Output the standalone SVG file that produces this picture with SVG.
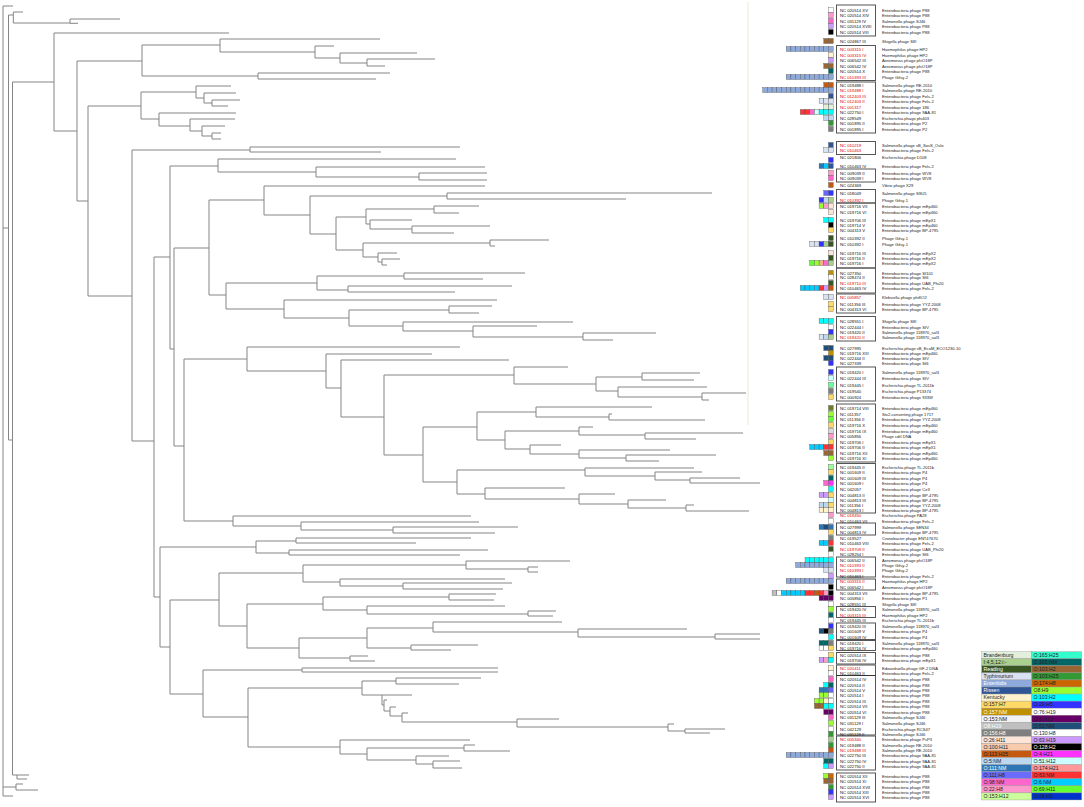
<svg xmlns="http://www.w3.org/2000/svg" width="1084" height="807" viewBox="0 0 1084 807">
<style>
.tree{fill:none;stroke:#858585;stroke-width:1}
.q rect{stroke:#4a4a4a;stroke-width:.35}
.n{font-family:"Liberation Sans",Arial,sans-serif;font-size:4.2px;fill:#111}
.r{font-family:"Liberation Sans",Arial,sans-serif;font-size:4.2px;fill:#e00000}
.d{font-family:"Liberation Sans",Arial,sans-serif;font-size:4.1px;fill:#222}
.box{fill:none;stroke:#555;stroke-width:1}
.lg rect{stroke:#9a9a9a;stroke-width:.4}
.lt{font-family:"Liberation Sans",Arial,sans-serif;font-size:5.2px;fill:#222}
.lw{font-family:"Liberation Sans",Arial,sans-serif;font-size:5.2px;fill:#fff}
</style>
<rect width="1084" height="807" fill="#fff"/>
<g id="connectors">
<line x1="748" y1="2" x2="748" y2="425" stroke="#e4eed4" stroke-width="1"/>
<path class="tree" d="M3,6V796M3,6H13M3,796H13M3,228H8.5M8.5,15V440M8.5,15H13.3M13.3,12V23M13.3,12H23M13.3,23H70M70,19V23.3M70,19H120M70,23.3H78M8.5,440H12.5M12.5,82V775M12.5,775H17M17,775V779M17,775H29M17,779H27M3,787H16M16,784V790M16,784H23M16,790H38
M12.5,82H54M54,33V131M54,33H229M54,131H77M77,61V201M77,61H142M142,45V76M142,45H220M220,39V52M220,39H380M220,52H315M315,46V58M315,46H334M315,58H340M340,53V63M340,53H417M340,63H367M367,59V66M367,59H435M367,66H385M142,76H258M258,73V79M258,73H390M258,79H376
M77,201H88M88,106V296M88,106H141M141,92V119M141,92H196M196,86V98M196,86H231M196,98H204M204,93V103M204,93H236M204,103H212M212,100V106M212,100H240M212,106H228M141,119H159M159,113V126M159,113H236M159,126H190M190,119V131M190,119H235M190,131H202M202,126V136M202,126H225M202,136H212M212,133V139M212,133H221M212,139H221
M88,296H132M132,150V441M132,150H250M250,147V152M250,147H460M250,152H381M132,441H154M154,257V597M154,257H170M170,166V349M170,166H218M218,159V172M218,159H456M218,172H316M316,167V177M316,167H485M316,177H419M419,173V180M419,173H487M419,180H487
M170,349H174M174,248V446M174,248H209M209,200V295M209,200H264M264,186V215M264,186H485M264,215H310M310,196V234M310,196H447M447,193V199M447,193H712M447,199H626M310,234H336M336,217V250M336,217H366M366,209V224M366,209H434M434,206V213M434,206H479M434,213H459M366,224H370M370,220V229M370,220H412M370,229H412M412,226V233M412,226H490M412,233H454M336,250H363M363,243V257M363,243H490M490,240V246M490,240H549M490,246H495M363,257H378M378,253V262M378,253H397M378,262H382M382,259V265M382,259H400M382,265H387
M209,295H226M226,283V309M226,283H317M317,276V290M317,276H404M404,273V279M404,273H525M404,279H483M317,290H348M348,286V292M348,286H512M348,292H455M226,309H284M284,300V318M284,300H497M284,318H349M349,310V326M349,310H449M449,306V313M449,306H492M449,313H479M349,326H403M403,322V331M403,322H573M403,331H473M473,326V337M473,326H537M473,337H583M583,333V340M583,333H656M583,340H613
M174,446H184M184,359V521M184,359H247M247,347V371M247,347H460M247,371H326M326,354V388M326,354H432M326,388H341M341,360V417M341,360H509M341,417H384M384,375V455M384,375H514M514,367V384M514,367H568M514,384H596M596,377V391M596,377H642M642,373V380M642,373H700M642,380H694M596,391H618M618,387V397M618,387H707M618,397H702M702,393V400M702,393H746M702,400H709
M384,455H423M423,427V482M423,427H477M477,412V440M477,412H536M536,407V417M536,407H652M536,417H609M609,414V420M609,414H612M609,420H705M477,440H505M505,431V449M505,431H579M579,427V435M579,427H593M579,435H645M645,433V439M645,433H743M645,439H696M505,449H530M530,445V454M530,445H561M530,454H579M579,450V458M579,450H670M579,458H626M626,455V461M626,455H716M626,461H659
M423,482H457M457,470V494M457,470H585M585,468V476M585,468H694M585,476H655M655,472V480M655,472H702M655,480H690M690,478V483M690,478H740M690,483H760M457,494H485M485,488V499M485,488H565M485,499H579M579,494V504M579,494H615M579,504H628M628,500V508M628,500H666M628,508H686M686,505V511M686,505H694M686,511H749
M184,521H233M233,516V526M233,516H471M233,526H301M301,522V530M301,522H479M301,530H393M393,527V533M393,527H518M393,533H495
M154,597H160M160,547V647M160,547H256M256,541V553M256,541H296M296,538V543M296,538H471M296,543H416M256,553H289M289,550V555M289,550H488M289,555H460
M160,647H170M170,600V694M170,600H219M219,573V626M219,573H303M303,565V582M303,565H466M466,561V569M466,561H570M466,569H528M528,567V572M528,567H538M528,572H538M303,582H340M340,579V586M340,579H505M340,586H403M403,583V589M403,583H512M403,589H503
M219,626H247M247,604V648M247,604H323M323,597V610M323,597H449M449,594V600M449,594H496M449,600H494M323,610H367M367,606V614M367,606H505M367,614H528M528,611V616M528,611H556M528,616H553M247,648H299M299,638V658M299,638H367M367,628V648M367,628H433M433,622V632M433,622H562M433,632H578M578,629V637M578,629H687M578,637H715M715,634V639M715,634H760M715,639H760M367,648H411M411,645V650M411,645H478M411,650H451M299,658H350M350,656V661M350,656H368M350,661H375
M170,694H203M203,670V717M203,670H302M302,668V672M302,668H498M302,672H498M203,717H248M248,688V747M248,688H362M362,681V695M362,681H396M396,678V684M396,678H481M396,684H459M362,695H382M382,695V705M382,695H412M382,705H384M384,700V711M384,700H387M384,711H390M390,707V716M390,707H396M390,716H402M402,713V722M402,713H408M402,722H517M517,719V727M517,719H559M517,727H668M668,724V731M668,724H674M668,731H685M685,729V733M685,729H725M685,733H710
M248,747H340M340,740V754M340,740H470M340,754H367M367,748V760M367,748H464M464,745V751M464,745H475M464,751H510M367,760H416M416,756V764M416,756H449M416,764H433M433,761V768M433,761H460M433,768H462"/>
</g>
<g id="clusters">
<rect class="box" x="836.5" y="5" width="39" height="31"/>
<rect class="box" x="836.5" y="45.5" width="39" height="35"/>
<rect class="box" x="836.5" y="82" width="39" height="51"/>
<rect class="box" x="836.5" y="141.5" width="39" height="13"/>
<rect class="box" x="836.5" y="169" width="39" height="13"/>
<rect class="box" x="836.5" y="189.5" width="39" height="13.5"/>
<rect class="box" x="836.5" y="203" width="39" height="65"/>
<rect class="box" x="836.5" y="268" width="39" height="25"/>
<rect class="box" x="836.5" y="294" width="39" height="19"/>
<rect class="box" x="836.5" y="316.5" width="39" height="24.5"/>
<rect class="box" x="836.5" y="367" width="39" height="34"/>
<rect class="box" x="836.5" y="404" width="39" height="58"/>
<rect class="box" x="836.5" y="463.5" width="39" height="49.5"/>
<rect class="box" x="836.5" y="523" width="39" height="12"/>
<rect class="box" x="836.5" y="557" width="39" height="20"/>
<rect class="box" x="836.5" y="579" width="39" height="11"/>
<rect class="box" x="836.5" y="606.5" width="39" height="11"/>
<rect class="box" x="836.5" y="623" width="39" height="16.5"/>
<rect class="box" x="836.5" y="640.5" width="39" height="10"/>
<rect class="box" x="836.5" y="652.5" width="39" height="11.5"/>
<rect class="box" x="836.5" y="665" width="39" height="70"/>
<line x1="836.5" y1="675.5" x2="875.5" y2="675.5" stroke="#333" stroke-width="1"/>
<rect class="box" x="836.5" y="736" width="39" height="34"/>
<rect class="box" x="836.5" y="773" width="39" height="29"/>
</g>
<g id="leaves">
<g id="r1" class="q"><rect x="828.5" y="7.5" width="4.7" height="5" fill="#ffffff"/><text class="n" x="840" y="11.5">NC 020514 XV</text><text class="d" x="882" y="11.5">Enterobacteria phage P88</text></g>
<g id="r2" class="q"><rect x="828.5" y="12.5" width="4.7" height="5" fill="#ff99cc"/><text class="n" x="840" y="16.5">NC 020514 XIV</text><text class="d" x="882" y="16.5">Enterobacteria phage P88</text></g>
<g id="r3" class="q"><rect x="828.5" y="18.5" width="4.7" height="5" fill="#ff66cc"/><text class="n" x="840" y="22.5">NC 031129 IV</text><text class="d" x="882" y="22.5">Salmonella phage SJ46</text></g>
<g id="r4" class="q"><rect x="828.5" y="23.5" width="4.7" height="5" fill="#cc99ff"/><text class="n" x="840" y="27.5">NC 020514 XVIII</text><text class="d" x="882" y="27.5">Enterobacteria phage P88</text></g>
<g id="r5" class="q"><rect x="828.5" y="29.5" width="4.7" height="5" fill="#000000"/><text class="n" x="840" y="33.5">NC 020514 VIII</text><text class="d" x="882" y="33.5">Enterobacteria phage P88</text></g>
<g id="r6" class="q"><rect x="823.8" y="38.5" width="4.7" height="5" fill="#996633"/><rect x="828.5" y="38.5" width="4.7" height="5" fill="#996633"/><text class="n" x="840" y="42.5">NC 024867 III</text><text class="d" x="882" y="42.5">Shigella phage SfII</text></g>
<g id="r7" class="q"><rect x="786.2" y="46.5" width="4.7" height="5" fill="#8ea9db"/><rect x="790.9" y="46.5" width="4.7" height="5" fill="#8ea9db"/><rect x="795.6" y="46.5" width="4.7" height="5" fill="#8ea9db"/><rect x="800.3" y="46.5" width="4.7" height="5" fill="#8ea9db"/><rect x="805" y="46.5" width="4.7" height="5" fill="#8ea9db"/><rect x="809.7" y="46.5" width="4.7" height="5" fill="#8ea9db"/><rect x="814.4" y="46.5" width="4.7" height="5" fill="#8ea9db"/><rect x="819.1" y="46.5" width="4.7" height="5" fill="#8ea9db"/><rect x="823.8" y="46.5" width="4.7" height="5" fill="#8ea9db"/><rect x="828.5" y="46.5" width="4.7" height="5" fill="#8ea9db"/><text class="r" x="840" y="50.5">NC 003315 I</text><text class="d" x="882" y="50.5">Haemophilus phage HP2</text></g>
<g id="r8" class="q"><rect x="828.5" y="52.5" width="4.7" height="5" fill="#fff2cc"/><text class="r" x="840" y="56.5">NC 003315 IV</text><text class="d" x="882" y="56.5">Haemophilus phage HP2</text></g>
<g id="r9" class="q"><rect x="828.5" y="57.5" width="4.7" height="5" fill="#cc99ff"/><text class="n" x="840" y="61.5">NC 006542 III</text><text class="d" x="882" y="61.5">Aeromonas phage phiO18P</text></g>
<g id="r10" class="q"><rect x="823.8" y="63.5" width="4.7" height="5" fill="#996633"/><rect x="828.5" y="63.5" width="4.7" height="5" fill="#996633"/><text class="n" x="840" y="67.5">NC 006542 IV</text><text class="d" x="882" y="67.5">Aeromonas phage phiO18P</text></g>
<g id="r11" class="q"><rect x="828.5" y="68.5" width="4.7" height="5" fill="#006666"/><text class="n" x="840" y="72.5">NC 020514 X</text><text class="d" x="882" y="72.5">Enterobacteria phage P88</text></g>
<g id="r12" class="q"><rect x="786.2" y="74.5" width="4.7" height="5" fill="#8ea9db"/><rect x="790.9" y="74.5" width="4.7" height="5" fill="#8ea9db"/><rect x="795.6" y="74.5" width="4.7" height="5" fill="#8ea9db"/><rect x="800.3" y="74.5" width="4.7" height="5" fill="#8ea9db"/><rect x="805" y="74.5" width="4.7" height="5" fill="#8ea9db"/><rect x="809.7" y="74.5" width="4.7" height="5" fill="#8ea9db"/><rect x="814.4" y="74.5" width="4.7" height="5" fill="#8ea9db"/><rect x="819.1" y="74.5" width="4.7" height="5" fill="#8ea9db"/><rect x="823.8" y="74.5" width="4.7" height="5" fill="#8ea9db"/><rect x="828.5" y="74.5" width="4.7" height="5" fill="#8ea9db"/><text class="r" x="840" y="78.5">NC 010393 III</text><text class="d" x="882" y="78.5">Phage Gifsy-2</text></g>
<g id="r13" class="q"><rect x="823.8" y="82.5" width="4.7" height="5" fill="#c65911"/><rect x="828.5" y="82.5" width="4.7" height="5" fill="#c65911"/><text class="n" x="840" y="86.5">NC 019488 I</text><text class="d" x="882" y="86.5">Salmonella phage RE-2010</text></g>
<g id="r14" class="q"><rect x="762.7" y="87.5" width="4.7" height="5" fill="#8ea9db"/><rect x="767.4" y="87.5" width="4.7" height="5" fill="#8ea9db"/><rect x="772.1" y="87.5" width="4.7" height="5" fill="#8ea9db"/><rect x="776.8" y="87.5" width="4.7" height="5" fill="#8ea9db"/><rect x="781.5" y="87.5" width="4.7" height="5" fill="#8ea9db"/><rect x="786.2" y="87.5" width="4.7" height="5" fill="#8ea9db"/><rect x="790.9" y="87.5" width="4.7" height="5" fill="#8ea9db"/><rect x="795.6" y="87.5" width="4.7" height="5" fill="#8ea9db"/><rect x="800.3" y="87.5" width="4.7" height="5" fill="#8ea9db"/><rect x="805" y="87.5" width="4.7" height="5" fill="#8ea9db"/><rect x="809.7" y="87.5" width="4.7" height="5" fill="#8ea9db"/><rect x="814.4" y="87.5" width="4.7" height="5" fill="#8ea9db"/><rect x="819.1" y="87.5" width="4.7" height="5" fill="#8ea9db"/><rect x="823.8" y="87.5" width="4.7" height="5" fill="#8ea9db"/><rect x="828.5" y="87.5" width="4.7" height="5" fill="#8ea9db"/><text class="r" x="840" y="91.5">NC 019488 I</text><text class="d" x="882" y="91.5">Salmonella phage RE-2010</text></g>
<g id="r15" class="q"><rect x="828.5" y="93.5" width="4.7" height="5" fill="#2f5597"/><text class="r" x="840" y="97.5">NC 012403 III</text><text class="d" x="882" y="97.5">Enterobacteria phage Fels-2</text></g>
<g id="r16" class="q"><rect x="819.1" y="98.5" width="4.7" height="5" fill="#d9e1f2"/><rect x="823.8" y="98.5" width="4.7" height="5" fill="#d9e1f2"/><rect x="828.5" y="98.5" width="4.7" height="5" fill="#d9e1f2"/><text class="r" x="840" y="102.5">NC 012403 II</text><text class="d" x="882" y="102.5">Enterobacteria phage Fels-2</text></g>
<g id="r17" class="q"><rect x="823.8" y="104.5" width="4.7" height="5" fill="#e2efda"/><rect x="828.5" y="104.5" width="4.7" height="5" fill="#e2efda"/><text class="r" x="840" y="108.5">NC 001317</text><text class="d" x="882" y="108.5">Enterobacteria phage 186</text></g>
<g id="r18" class="q"><rect x="800.3" y="109.5" width="4.7" height="5" fill="#ff3333"/><rect x="805" y="109.5" width="4.7" height="5" fill="#ff3333"/><rect x="809.7" y="109.5" width="4.7" height="5" fill="#ff66cc"/><rect x="814.4" y="109.5" width="4.7" height="5" fill="#ccffff"/><rect x="819.1" y="109.5" width="4.7" height="5" fill="#00ffff"/><rect x="823.8" y="109.5" width="4.7" height="5" fill="#00ffff"/><rect x="828.5" y="109.5" width="4.7" height="5" fill="#00ffff"/><text class="n" x="840" y="113.5">NC 022750 I</text><text class="d" x="882" y="113.5">Enterobacteria phage 9AA-81</text></g>
<g id="r19" class="q"><rect x="823.8" y="115.5" width="4.7" height="5" fill="#bdd7ee"/><rect x="828.5" y="115.5" width="4.7" height="5" fill="#bdd7ee"/><text class="n" x="840" y="119.5">NC 028549</text><text class="d" x="882" y="119.5">Escherichia phage phi403</text></g>
<g id="r20" class="q"><rect x="828.5" y="120.5" width="4.7" height="5" fill="#339933"/><text class="n" x="840" y="124.5">NC 001895 II</text><text class="d" x="882" y="124.5">Enterobacteria phage P2</text></g>
<g id="r21" class="q"><rect x="828.5" y="126.5" width="4.7" height="5" fill="#7f7f7f"/><text class="n" x="840" y="130.5">NC 001895 I</text><text class="d" x="882" y="130.5">Enterobacteria phage P2</text></g>
<g id="r22" class="q"><rect x="828.5" y="142.5" width="4.7" height="5" fill="#2f5597"/><text class="r" x="840" y="146.5">NC 010219</text><text class="d" x="882" y="146.5">Salmonella phage vB_SosS_Oslo</text></g>
<g id="r23" class="q"><rect x="823.8" y="147.5" width="4.7" height="5" fill="#d9e1f2"/><rect x="828.5" y="147.5" width="4.7" height="5" fill="#d9e1f2"/><text class="r" x="840" y="151.5">NC 010463</text><text class="d" x="882" y="151.5">Enterobacteria phage Fels-2</text></g>
<g id="r24" class="q"><rect x="828.5" y="157.5" width="4.7" height="5" fill="#3333ff"/><text class="n" x="840" y="158.5">NC 021806</text><text class="d" x="882" y="158.5">Escherichia phage D108</text></g>
<g id="r25" class="q"><rect x="819.1" y="163.5" width="4.7" height="5" fill="#2e75b6"/><rect x="823.8" y="163.5" width="4.7" height="5" fill="#00ccff"/><rect x="828.5" y="163.5" width="4.7" height="5" fill="#2f5597"/><text class="n" x="840" y="167.5">NC 010463 IV</text><text class="d" x="882" y="167.5">Enterobacteria phage Fels-2</text></g>
<g id="r26" class="q"><rect x="828.5" y="170.5" width="4.7" height="5" fill="#ff99cc"/><text class="n" x="840" y="174.5">NC 009039 II</text><text class="d" x="882" y="174.5">Enterobacteria phage WV8</text></g>
<g id="r27" class="q"><rect x="828.5" y="175.5" width="4.7" height="5" fill="#ff66cc"/><text class="n" x="840" y="179.5">NC 009039 I</text><text class="d" x="882" y="179.5">Enterobacteria phage WV8</text></g>
<g id="r28" class="q"><rect x="828.5" y="182.5" width="4.7" height="5" fill="#c65911"/><text class="n" x="840" y="186.5">NC 024369</text><text class="d" x="882" y="186.5">Vibrio phage X29</text></g>
<g id="r29" class="q"><rect x="823.8" y="190.5" width="4.7" height="5" fill="#6666ff"/><rect x="828.5" y="190.5" width="4.7" height="5" fill="#3333ff"/><text class="n" x="840" y="194.5">NC 018049</text><text class="d" x="882" y="194.5">Salmonella phage SSU5</text></g>
<g id="r30" class="q"><rect x="819.1" y="197.5" width="4.7" height="5" fill="#3333ff"/><rect x="823.8" y="197.5" width="4.7" height="5" fill="#bdd7ee"/><rect x="828.5" y="197.5" width="4.7" height="5" fill="#a9d08e"/><text class="r" x="840" y="201.5">NC 010392 I</text><text class="d" x="882" y="201.5">Phage Gifsy-1</text></g>
<g id="r31" class="q"><rect x="819.1" y="203.5" width="4.7" height="5" fill="#99ff33"/><rect x="823.8" y="203.5" width="4.7" height="5" fill="#ff99cc"/><rect x="828.5" y="203.5" width="4.7" height="5" fill="#fce4d6"/><text class="n" x="840" y="207.5">NC 019716 VII</text><text class="d" x="882" y="207.5">Enterobacteria phage mEp460</text></g>
<g id="r32" class="q"><rect x="828.5" y="209.5" width="4.7" height="5" fill="#fce4d6"/><text class="n" x="840" y="213.5">NC 019716 VI</text><text class="d" x="882" y="213.5">Enterobacteria phage mEp460</text></g>
<g id="r33" class="q"><rect x="823.8" y="217.5" width="4.7" height="5" fill="#00ffff"/><rect x="828.5" y="217.5" width="4.7" height="5" fill="#00ffff"/><text class="n" x="840" y="221.5">NC 019706 III</text><text class="d" x="882" y="221.5">Enterobacteria phage mEpX1</text></g>
<g id="r34" class="q"><rect x="828.5" y="222.5" width="4.7" height="5" fill="#000000"/><text class="n" x="840" y="226.5">NC 019714 V</text><text class="d" x="882" y="226.5">Enterobacteria phage mEp460</text></g>
<g id="r35" class="q"><rect x="828.5" y="227.5" width="4.7" height="5" fill="#ffd966"/><text class="n" x="840" y="231.5">NC 004313 V</text><text class="d" x="882" y="231.5">Enterobacteria phage BP-4795</text></g>
<g id="r36" class="q"><rect x="828.5" y="235.5" width="4.7" height="5" fill="#375623"/><text class="n" x="840" y="239.5">NC 010392 II</text><text class="d" x="882" y="239.5">Phage Gifsy-1</text></g>
<g id="r37" class="q"><rect x="809.7" y="241.5" width="4.7" height="5" fill="#d9e1f2"/><rect x="814.4" y="241.5" width="4.7" height="5" fill="#d9e1f2"/><rect x="819.1" y="241.5" width="4.7" height="5" fill="#3333ff"/><rect x="823.8" y="241.5" width="4.7" height="5" fill="#a9d08e"/><rect x="828.5" y="241.5" width="4.7" height="5" fill="#375623"/><text class="n" x="840" y="245.5">NC 010392 I</text><text class="d" x="882" y="245.5">Phage Gifsy-1</text></g>
<g id="r38" class="q"><rect x="828.5" y="250.5" width="4.7" height="5" fill="#fce4d6"/><text class="n" x="840" y="254.5">NC 019716 III</text><text class="d" x="882" y="254.5">Enterobacteria phage mEpX2</text></g>
<g id="r39" class="q"><rect x="828.5" y="255.5" width="4.7" height="5" fill="#375623"/><text class="n" x="840" y="259.5">NC 019716 II</text><text class="d" x="882" y="259.5">Enterobacteria phage mEpX2</text></g>
<g id="r40" class="q"><rect x="809.7" y="260.5" width="4.7" height="5" fill="#66ff33"/><rect x="814.4" y="260.5" width="4.7" height="5" fill="#99ff33"/><rect x="819.1" y="260.5" width="4.7" height="5" fill="#f4b183"/><rect x="823.8" y="260.5" width="4.7" height="5" fill="#ff66cc"/><rect x="828.5" y="260.5" width="4.7" height="5" fill="#a9d08e"/><text class="n" x="840" y="264.5">NC 019716 I</text><text class="d" x="882" y="264.5">Enterobacteria phage mEpX2</text></g>
<g id="r41" class="q"><rect x="828.5" y="270.5" width="4.7" height="5" fill="#bf8f00"/><text class="n" x="840" y="274.5">NC 027350</text><text class="d" x="882" y="274.5">Enterobacteria phage Sf101</text></g>
<g id="r42" class="q"><rect x="828.5" y="274.5" width="4.7" height="5" fill="#ffffff"/><text class="n" x="840" y="278.5">NC 028474 II</text><text class="d" x="882" y="278.5">Enterobacteria phage Sf6</text></g>
<g id="r43" class="q"><rect x="828.5" y="280.5" width="4.7" height="5" fill="#375623"/><text class="r" x="840" y="284.5">NC 019710 III</text><text class="d" x="882" y="284.5">Enterobacteria phage UAB_Phi20</text></g>
<g id="r44" class="q"><rect x="800.3" y="285.5" width="4.7" height="5" fill="#00ccff"/><rect x="805" y="285.5" width="4.7" height="5" fill="#00ccff"/><rect x="809.7" y="285.5" width="4.7" height="5" fill="#00ccff"/><rect x="814.4" y="285.5" width="4.7" height="5" fill="#00ccff"/><rect x="819.1" y="285.5" width="4.7" height="5" fill="#ff3333"/><rect x="823.8" y="285.5" width="4.7" height="5" fill="#cc99ff"/><rect x="828.5" y="285.5" width="4.7" height="5" fill="#c65911"/><text class="n" x="840" y="289.5">NC 010463 IV</text><text class="d" x="882" y="289.5">Enterobacteria phage Fels-2</text></g>
<g id="r45" class="q"><rect x="823.8" y="294.5" width="4.7" height="5" fill="#d9e1f2"/><rect x="828.5" y="294.5" width="4.7" height="5" fill="#d9e1f2"/><text class="r" x="840" y="298.5">NC 005857</text><text class="d" x="882" y="298.5">Klebsiella phage phiKO2</text></g>
<g id="r46" class="q"><rect x="828.5" y="301.5" width="4.7" height="5" fill="#ffd966"/><text class="n" x="840" y="305.5">NC 011356 III</text><text class="d" x="882" y="305.5">Enterobacteria phage YYZ-2008</text></g>
<g id="r47" class="q"><rect x="828.5" y="306.5" width="4.7" height="5" fill="#ffd966"/><text class="n" x="840" y="310.5">NC 004313 VI</text><text class="d" x="882" y="310.5">Enterobacteria phage BP-4795</text></g>
<g id="r48" class="q"><rect x="819.1" y="318.5" width="4.7" height="5" fill="#00ffff"/><rect x="823.8" y="318.5" width="4.7" height="5" fill="#00ffff"/><rect x="828.5" y="318.5" width="4.7" height="5" fill="#00ffff"/><text class="n" x="840" y="322.5">NC 028551 I</text><text class="d" x="882" y="322.5">Shigella phage SfII</text></g>
<g id="r49" class="q"><rect x="828.5" y="324.5" width="4.7" height="5" fill="#ffffff"/><text class="n" x="840" y="328.5">NC 022444 I</text><text class="d" x="882" y="328.5">Enterobacteria phage SfV</text></g>
<g id="r50" class="q"><rect x="828.5" y="329.5" width="4.7" height="5" fill="#3333ff"/><text class="n" x="840" y="333.5">NC 019420 II</text><text class="d" x="882" y="333.5">Salmonella phage 118970_sal3</text></g>
<g id="r51" class="q"><rect x="819.1" y="334.5" width="4.7" height="5" fill="#d9e1f2"/><rect x="823.8" y="334.5" width="4.7" height="5" fill="#bdd7ee"/><rect x="828.5" y="334.5" width="4.7" height="5" fill="#a9d08e"/><text class="r" x="840" y="338.5">NC 019420 II</text><text class="d" x="882" y="338.5">Salmonella phage 118970_sal3</text></g>
<g id="r52" class="q"><rect x="823.8" y="345.5" width="4.7" height="5" fill="#1f4e79"/><rect x="828.5" y="345.5" width="4.7" height="5" fill="#1f4e79"/><text class="n" x="840" y="349.5">NC 027995</text><text class="d" x="882" y="349.5">Escherichia phage vB_EcoM_ECO1230-10</text></g>
<g id="r53" class="q"><rect x="828.5" y="350.5" width="4.7" height="5" fill="#bf8f00"/><text class="n" x="840" y="354.5">NC 019716 XIII</text><text class="d" x="882" y="354.5">Enterobacteria phage mEp460</text></g>
<g id="r54" class="q"><rect x="823.8" y="355.5" width="4.7" height="5" fill="#1f4e79"/><rect x="828.5" y="355.5" width="4.7" height="5" fill="#1f4e79"/><text class="n" x="840" y="359.5">NC 022444 II</text><text class="d" x="882" y="359.5">Enterobacteria phage SfV</text></g>
<g id="r55" class="q"><rect x="828.5" y="360.5" width="4.7" height="5" fill="#3333ff"/><text class="n" x="840" y="364.5">NC 027339</text><text class="d" x="882" y="364.5">Enterobacteria phage Sf6</text></g>
<g id="r56" class="q"><rect x="828.5" y="369.5" width="4.7" height="5" fill="#3333ff"/><text class="n" x="840" y="373.5">NC 019420 I</text><text class="d" x="882" y="373.5">Salmonella phage 118970_sal3</text></g>
<g id="r57" class="q"><rect x="828.5" y="375.5" width="4.7" height="5" fill="#ccffff"/><text class="n" x="840" y="379.5">NC 022444 III</text><text class="d" x="882" y="379.5">Enterobacteria phage SfV</text></g>
<g id="r58" class="q"><rect x="828.5" y="382.5" width="4.7" height="5" fill="#66ff99"/><text class="n" x="840" y="386.5">NC 019445 I</text><text class="d" x="882" y="386.5">Escherichia phage TL-2011b</text></g>
<g id="r59" class="q"><rect x="828.5" y="388.5" width="4.7" height="5" fill="#7f7f7f"/><text class="n" x="840" y="392.5">NC 019540</text><text class="d" x="882" y="392.5">Escherichia phage P13374</text></g>
<g id="r60" class="q"><rect x="828.5" y="394.5" width="4.7" height="5" fill="#ffd966"/><text class="n" x="840" y="398.5">NC 000924</text><text class="d" x="882" y="398.5">Enterobacteria phage 933W</text></g>
<g id="r61" class="q"><rect x="828.5" y="405.5" width="4.7" height="5" fill="#6b7f2a"/><text class="n" x="840" y="409.5">NC 019714 VIII</text><text class="d" x="882" y="409.5">Enterobacteria phage mEp460</text></g>
<g id="r62" class="q"><rect x="828.5" y="411.5" width="4.7" height="5" fill="#99ff33"/><text class="n" x="840" y="415.5">NC 011357</text><text class="d" x="882" y="415.5">Stx2-converting phage 1717</text></g>
<g id="r63" class="q"><rect x="828.5" y="416.5" width="4.7" height="5" fill="#66ff33"/><text class="n" x="840" y="420.5">NC 011356 II</text><text class="d" x="882" y="420.5">Enterobacteria phage YYZ-2008</text></g>
<g id="r64" class="q"><rect x="828.5" y="422.5" width="4.7" height="5" fill="#ffd966"/><text class="n" x="840" y="426.5">NC 019716 X</text><text class="d" x="882" y="426.5">Enterobacteria phage mEp460</text></g>
<g id="r65" class="q"><rect x="828.5" y="428.5" width="4.7" height="5" fill="#d9d9d9"/><text class="n" x="840" y="432.5">NC 019716 IX</text><text class="d" x="882" y="432.5">Enterobacteria phage mEp460</text></g>
<g id="r66" class="q"><rect x="828.5" y="433.5" width="4.7" height="5" fill="#ff99cc"/><text class="n" x="840" y="437.5">NC 005856</text><text class="d" x="882" y="437.5">Phage cdtI DNA</text></g>
<g id="r67" class="q"><rect x="828.5" y="439.5" width="4.7" height="5" fill="#ffd966"/><text class="n" x="840" y="443.5">NC 019706 I</text><text class="d" x="882" y="443.5">Enterobacteria phage mEpX1</text></g>
<g id="r68" class="q"><rect x="809.7" y="444.5" width="4.7" height="5" fill="#00ccff"/><rect x="814.4" y="444.5" width="4.7" height="5" fill="#00ccff"/><rect x="819.1" y="444.5" width="4.7" height="5" fill="#00ccff"/><rect x="823.8" y="444.5" width="4.7" height="5" fill="#ff3333"/><rect x="828.5" y="444.5" width="4.7" height="5" fill="#ff3333"/><text class="n" x="840" y="448.5">NC 019706 II</text><text class="d" x="882" y="448.5">Enterobacteria phage mEpX1</text></g>
<g id="r69" class="q"><rect x="823.8" y="450.5" width="4.7" height="5" fill="#996633"/><rect x="828.5" y="450.5" width="4.7" height="5" fill="#996633"/><text class="n" x="840" y="454.5">NC 019716 XII</text><text class="d" x="882" y="454.5">Enterobacteria phage mEp460</text></g>
<g id="r70" class="q"><rect x="828.5" y="455.5" width="4.7" height="5" fill="#99ff33"/><text class="n" x="840" y="459.5">NC 019716 XI</text><text class="d" x="882" y="459.5">Enterobacteria phage mEp460</text></g>
<g id="r71" class="q"><rect x="828.5" y="464.5" width="4.7" height="5" fill="#99ff99"/><text class="n" x="840" y="468.5">NC 019445 II</text><text class="d" x="882" y="468.5">Escherichia phage TL-2011b</text></g>
<g id="r72" class="q"><rect x="828.5" y="469.5" width="4.7" height="5" fill="#ffd966"/><text class="n" x="840" y="473.5">NC 001609 II</text><text class="d" x="882" y="473.5">Enterobacteria phage P4</text></g>
<g id="r73" class="q"><rect x="828.5" y="475.5" width="4.7" height="5" fill="#006666"/><text class="n" x="840" y="479.5">NC 001609 III</text><text class="d" x="882" y="479.5">Enterobacteria phage P4</text></g>
<g id="r74" class="q"><rect x="823.8" y="480.5" width="4.7" height="5" fill="#ff66cc"/><rect x="828.5" y="480.5" width="4.7" height="5" fill="#ff33ff"/><text class="n" x="840" y="484.5">NC 001609 I</text><text class="d" x="882" y="484.5">Enterobacteria phage P4</text></g>
<g id="r75" class="q"><rect x="828.5" y="486.5" width="4.7" height="5" fill="#00ffff"/><text class="n" x="840" y="490.5">NC 042057</text><text class="d" x="882" y="490.5">Enterobacteria phage Ce3</text></g>
<g id="r76" class="q"><rect x="819.1" y="492.5" width="4.7" height="5" fill="#cc99ff"/><rect x="823.8" y="492.5" width="4.7" height="5" fill="#cc99ff"/><rect x="828.5" y="492.5" width="4.7" height="5" fill="#ffd966"/><text class="n" x="840" y="496.5">NC 004813 II</text><text class="d" x="882" y="496.5">Enterobacteria phage BP-4795</text></g>
<g id="r77" class="q"><rect x="828.5" y="497.5" width="4.7" height="5" fill="#ccffff"/><text class="n" x="840" y="501.5">NC 004813 III</text><text class="d" x="882" y="501.5">Enterobacteria phage BP-4795</text></g>
<g id="r78" class="q"><rect x="819.1" y="502.5" width="4.7" height="5" fill="#bdd7ee"/><rect x="823.8" y="502.5" width="4.7" height="5" fill="#bdd7ee"/><rect x="828.5" y="502.5" width="4.7" height="5" fill="#ffd966"/><text class="n" x="840" y="506.5">NC 011356 I</text><text class="d" x="882" y="506.5">Enterobacteria phage YYZ-2008</text></g>
<g id="r79" class="q"><rect x="819.1" y="507.5" width="4.7" height="5" fill="#fff2cc"/><rect x="823.8" y="507.5" width="4.7" height="5" fill="#fff2cc"/><rect x="828.5" y="507.5" width="4.7" height="5" fill="#fff2cc"/><text class="n" x="840" y="511.5">NC 004813 I</text><text class="d" x="882" y="511.5">Enterobacteria phage BP-4795</text></g>
<g id="r80" class="q"><rect x="828.5" y="512.5" width="4.7" height="5" fill="#ff99cc"/><text class="r" x="840" y="516.5">NC 019450</text><text class="d" x="882" y="516.5">Escherichia phage PA28</text></g>
<g id="r81" class="q"><rect x="828.5" y="518.5" width="4.7" height="5" fill="#ffffff"/><text class="n" x="840" y="522.5">NC 010463 VII</text><text class="d" x="882" y="522.5">Enterobacteria phage Fels-2</text></g>
<g id="r82" class="q"><rect x="819.1" y="524.5" width="4.7" height="5" fill="#2e75b6"/><rect x="823.8" y="524.5" width="4.7" height="5" fill="#1f4e79"/><rect x="828.5" y="524.5" width="4.7" height="5" fill="#2e75b6"/><text class="n" x="840" y="528.5">NC 027999</text><text class="d" x="882" y="528.5">Salmonella phage SEN34</text></g>
<g id="r83" class="q"><rect x="828.5" y="529.5" width="4.7" height="5" fill="#ffd966"/><text class="n" x="840" y="533.5">NC 004813 IV</text><text class="d" x="882" y="533.5">Enterobacteria phage BP-4795</text></g>
<g id="r84" class="q"><rect x="828.5" y="535.5" width="4.7" height="5" fill="#7f7f7f"/><text class="n" x="840" y="539.5">NC 019527</text><text class="d" x="882" y="539.5">Cronobacter phage ENT47670</text></g>
<g id="r85" class="q"><rect x="819.1" y="540.5" width="4.7" height="5" fill="#00ccff"/><rect x="823.8" y="540.5" width="4.7" height="5" fill="#00ccff"/><rect x="828.5" y="540.5" width="4.7" height="5" fill="#ff3333"/><text class="n" x="840" y="544.5">NC 010463 VIII</text><text class="d" x="882" y="544.5">Enterobacteria phage Fels-2</text></g>
<g id="r86" class="q"><rect x="828.5" y="546.5" width="4.7" height="5" fill="#375623"/><text class="r" x="840" y="550.5">NC 019709 II</text><text class="d" x="882" y="550.5">Enterobacteria phage UAB_Phi20</text></g>
<g id="r87" class="q"><rect x="828.5" y="551.5" width="4.7" height="5" fill="#ffffff"/><text class="n" x="840" y="555.5">NC 028254 I</text><text class="d" x="882" y="555.5">Enterobacteria phage Sf6</text></g>
<g id="r88" class="q"><rect x="805" y="557.5" width="4.7" height="5" fill="#00ffff"/><rect x="809.7" y="557.5" width="4.7" height="5" fill="#00ffff"/><rect x="814.4" y="557.5" width="4.7" height="5" fill="#00ffff"/><rect x="819.1" y="557.5" width="4.7" height="5" fill="#00ffff"/><rect x="823.8" y="557.5" width="4.7" height="5" fill="#00ffff"/><rect x="828.5" y="557.5" width="4.7" height="5" fill="#00ffff"/><text class="n" x="840" y="561.5">NC 006542 II</text><text class="d" x="882" y="561.5">Aeromonas phage phiO18P</text></g>
<g id="r89" class="q"><rect x="795.6" y="562.5" width="4.7" height="5" fill="#8ea9db"/><rect x="800.3" y="562.5" width="4.7" height="5" fill="#8ea9db"/><rect x="805" y="562.5" width="4.7" height="5" fill="#8ea9db"/><rect x="809.7" y="562.5" width="4.7" height="5" fill="#8ea9db"/><rect x="814.4" y="562.5" width="4.7" height="5" fill="#8ea9db"/><rect x="819.1" y="562.5" width="4.7" height="5" fill="#8ea9db"/><rect x="823.8" y="562.5" width="4.7" height="5" fill="#8ea9db"/><rect x="828.5" y="562.5" width="4.7" height="5" fill="#8ea9db"/><text class="r" x="840" y="566.5">NC 010393 II</text><text class="d" x="882" y="566.5">Phage Gifsy-2</text></g>
<g id="r90" class="q"><rect x="823.8" y="567.5" width="4.7" height="5" fill="#d9e1f2"/><rect x="828.5" y="567.5" width="4.7" height="5" fill="#d9e1f2"/><text class="r" x="840" y="571.5">NC 010393 I</text><text class="d" x="882" y="571.5">Phage Gifsy-2</text></g>
<g id="r91" class="q"><rect x="828.5" y="573.5" width="4.7" height="5" fill="#cc99ff"/><text class="n" x="840" y="577.5">NC 010463 I</text><text class="d" x="882" y="577.5">Enterobacteria phage Fels-2</text></g>
<g id="r92" class="q"><rect x="786.2" y="578.5" width="4.7" height="5" fill="#8ea9db"/><rect x="790.9" y="578.5" width="4.7" height="5" fill="#8ea9db"/><rect x="795.6" y="578.5" width="4.7" height="5" fill="#8ea9db"/><rect x="800.3" y="578.5" width="4.7" height="5" fill="#8ea9db"/><rect x="805" y="578.5" width="4.7" height="5" fill="#8ea9db"/><rect x="809.7" y="578.5" width="4.7" height="5" fill="#8ea9db"/><rect x="814.4" y="578.5" width="4.7" height="5" fill="#8ea9db"/><rect x="819.1" y="578.5" width="4.7" height="5" fill="#8ea9db"/><rect x="823.8" y="578.5" width="4.7" height="5" fill="#8ea9db"/><rect x="828.5" y="578.5" width="4.7" height="5" fill="#8ea9db"/><text class="r" x="840" y="582.5">NC 003315 II</text><text class="d" x="882" y="582.5">Haemophilus phage HP2</text></g>
<g id="r93" class="q"><rect x="828.5" y="584.5" width="4.7" height="5" fill="#000000"/><text class="n" x="840" y="588.5">NC 006542 I</text><text class="d" x="882" y="588.5">Aeromonas phage phiO18P</text></g>
<g id="r94" class="q"><rect x="772.1" y="590.5" width="4.7" height="5" fill="#bfbfbf"/><rect x="776.8" y="590.5" width="4.7" height="5" fill="#ffffff"/><rect x="781.5" y="590.5" width="4.7" height="5" fill="#00ccff"/><rect x="786.2" y="590.5" width="4.7" height="5" fill="#00ccff"/><rect x="790.9" y="590.5" width="4.7" height="5" fill="#00ccff"/><rect x="795.6" y="590.5" width="4.7" height="5" fill="#00ccff"/><rect x="800.3" y="590.5" width="4.7" height="5" fill="#00ccff"/><rect x="805" y="590.5" width="4.7" height="5" fill="#ff3333"/><rect x="809.7" y="590.5" width="4.7" height="5" fill="#ff3333"/><rect x="814.4" y="590.5" width="4.7" height="5" fill="#c65911"/><rect x="819.1" y="590.5" width="4.7" height="5" fill="#ff3333"/><rect x="823.8" y="590.5" width="4.7" height="5" fill="#ff99cc"/><rect x="828.5" y="590.5" width="4.7" height="5" fill="#000000"/><text class="n" x="840" y="594.5">NC 004313 VII</text><text class="d" x="882" y="594.5">Enterobacteria phage BP-4795</text></g>
<g id="r95" class="q"><rect x="819.1" y="595.5" width="4.7" height="5" fill="#660066"/><rect x="823.8" y="595.5" width="4.7" height="5" fill="#660066"/><rect x="828.5" y="595.5" width="4.7" height="5" fill="#660066"/><text class="n" x="840" y="599.5">NC 005856 I</text><text class="d" x="882" y="599.5">Enterobacteria phage P1</text></g>
<g id="r96" class="q"><rect x="828.5" y="601.5" width="4.7" height="5" fill="#ffffff"/><text class="n" x="840" y="605.5">NC 028551 III</text><text class="d" x="882" y="605.5">Shigella phage SfII</text></g>
<g id="r97" class="q"><rect x="828.5" y="606.5" width="4.7" height="5" fill="#99ff33"/><text class="n" x="840" y="610.5">NC 019420 IV</text><text class="d" x="882" y="610.5">Salmonella phage 118970_sal3</text></g>
<g id="r98" class="q"><rect x="828.5" y="612.5" width="4.7" height="5" fill="#006666"/><text class="r" x="840" y="616.5">NC 003315 III</text><text class="d" x="882" y="616.5">Haemophilus phage HP2</text></g>
<g id="r99" class="q"><rect x="828.5" y="617.5" width="4.7" height="5" fill="#ffffff"/><text class="n" x="840" y="621.5">NC 019445 III</text><text class="d" x="882" y="621.5">Escherichia phage TL-2011b</text></g>
<g id="r100" class="q"><rect x="828.5" y="623.5" width="4.7" height="5" fill="#3333ff"/><text class="n" x="840" y="627.5">NC 019420 III</text><text class="d" x="882" y="627.5">Salmonella phage 118970_sal3</text></g>
<g id="r101" class="q"><rect x="819.1" y="628.5" width="4.7" height="5" fill="#1f4e79"/><rect x="823.8" y="628.5" width="4.7" height="5" fill="#000000"/><rect x="828.5" y="628.5" width="4.7" height="5" fill="#7f7f7f"/><text class="n" x="840" y="632.5">NC 001609 V</text><text class="d" x="882" y="632.5">Enterobacteria phage P4</text></g>
<g id="r102" class="q"><rect x="828.5" y="634.5" width="4.7" height="5" fill="#00ffff"/><text class="n" x="840" y="638.5">NC 001609 IV</text><text class="d" x="882" y="638.5">Enterobacteria phage P4</text></g>
<g id="r103" class="q"><rect x="819.1" y="640.5" width="4.7" height="5" fill="#006666"/><rect x="823.8" y="640.5" width="4.7" height="5" fill="#006666"/><rect x="828.5" y="640.5" width="4.7" height="5" fill="#7f7f7f"/><text class="n" x="840" y="644.5">NC 019420 I</text><text class="d" x="882" y="644.5">Salmonella phage 118970_sal3</text></g>
<g id="r104" class="q"><rect x="819.1" y="645.5" width="4.7" height="5" fill="#ffffff"/><rect x="823.8" y="645.5" width="4.7" height="5" fill="#ffffff"/><rect x="828.5" y="645.5" width="4.7" height="5" fill="#ffd966"/><text class="n" x="840" y="649.5">NC 019716 IV</text><text class="d" x="882" y="649.5">Enterobacteria phage mEp460</text></g>
<g id="r105" class="q"><rect x="828.5" y="652.5" width="4.7" height="5" fill="#ffd966"/><text class="n" x="840" y="656.5">NC 020514 IX</text><text class="d" x="882" y="656.5">Enterobacteria phage P88</text></g>
<g id="r106" class="q"><rect x="819.1" y="657.5" width="4.7" height="5" fill="#cc99ff"/><rect x="823.8" y="657.5" width="4.7" height="5" fill="#ff99cc"/><rect x="828.5" y="657.5" width="4.7" height="5" fill="#00ffff"/><text class="n" x="840" y="661.5">NC 019706 IV</text><text class="d" x="882" y="661.5">Enterobacteria phage mEpX1</text></g>
<g id="r107" class="q"><rect x="828.5" y="665.5" width="4.7" height="5" fill="#fff2cc"/><text class="r" x="840" y="669.5">NC 020411</text><text class="d" x="882" y="669.5">Edwardsiella phage GF-2 DNA</text></g>
<g id="r108" class="q"><rect x="828.5" y="670.5" width="4.7" height="5" fill="#ffffff"/><text class="n" x="840" y="674.5">NC 010463 II</text><text class="d" x="882" y="674.5">Enterobacteria phage Fels-2</text></g>
<g id="r109" class="q"><rect x="828.5" y="676.5" width="4.7" height="5" fill="#ff66cc"/><text class="n" x="840" y="680.5">NC 020514 IV</text><text class="d" x="882" y="680.5">Enterobacteria phage P88</text></g>
<g id="r110" class="q"><rect x="823.8" y="682.5" width="4.7" height="5" fill="#00ffff"/><rect x="828.5" y="682.5" width="4.7" height="5" fill="#006666"/><text class="n" x="840" y="686.5">NC 020514 II</text><text class="d" x="882" y="686.5">Enterobacteria phage P88</text></g>
<g id="r111" class="q"><rect x="819.1" y="687.5" width="4.7" height="5" fill="#2e75b6"/><rect x="823.8" y="687.5" width="4.7" height="5" fill="#2e75b6"/><rect x="828.5" y="687.5" width="4.7" height="5" fill="#6666ff"/><text class="n" x="840" y="691.5">NC 020514 V</text><text class="d" x="882" y="691.5">Enterobacteria phage P88</text></g>
<g id="r112" class="q"><rect x="819.1" y="692.5" width="4.7" height="5" fill="#99ff33"/><rect x="823.8" y="692.5" width="4.7" height="5" fill="#99ff33"/><rect x="828.5" y="692.5" width="4.7" height="5" fill="#ffffff"/><text class="n" x="840" y="696.5">NC 020514 I</text><text class="d" x="882" y="696.5">Enterobacteria phage P88</text></g>
<g id="r113" class="q"><rect x="814.4" y="698.5" width="4.7" height="5" fill="#99ff33"/><rect x="819.1" y="698.5" width="4.7" height="5" fill="#99ff33"/><rect x="823.8" y="698.5" width="4.7" height="5" fill="#fff2cc"/><rect x="828.5" y="698.5" width="4.7" height="5" fill="#ffffff"/><text class="n" x="840" y="702.5">NC 020514 III</text><text class="d" x="882" y="702.5">Enterobacteria phage P88</text></g>
<g id="r114" class="q"><rect x="814.4" y="703.5" width="4.7" height="5" fill="#996633"/><rect x="819.1" y="703.5" width="4.7" height="5" fill="#996633"/><rect x="823.8" y="703.5" width="4.7" height="5" fill="#00ffff"/><rect x="828.5" y="703.5" width="4.7" height="5" fill="#00ffff"/><text class="n" x="840" y="707.5">NC 020514 VII</text><text class="d" x="882" y="707.5">Enterobacteria phage P88</text></g>
<g id="r115" class="q"><rect x="823.8" y="709.5" width="4.7" height="5" fill="#660066"/><rect x="828.5" y="709.5" width="4.7" height="5" fill="#660066"/><text class="n" x="840" y="713.5">NC 020514 VI</text><text class="d" x="882" y="713.5">Enterobacteria phage P88</text></g>
<g id="r116" class="q"><rect x="828.5" y="714.5" width="4.7" height="5" fill="#ff66cc"/><text class="n" x="840" y="718.5">NC 031129 III</text><text class="d" x="882" y="718.5">Salmonella phage SJ46</text></g>
<g id="r117" class="q"><rect x="828.5" y="720.5" width="4.7" height="5" fill="#99ff33"/><text class="n" x="840" y="724.5">NC 031129 I</text><text class="d" x="882" y="724.5">Salmonella phage SJ46</text></g>
<g id="r118" class="q"><rect x="828.5" y="726.5" width="4.7" height="5" fill="#ffffff"/><text class="n" x="840" y="730.5">NC 042129</text><text class="d" x="882" y="730.5">Escherichia phage RCS47</text></g>
<g id="r119" class="q"><rect x="828.5" y="731.5" width="4.7" height="5" fill="#339933"/><text class="n" x="840" y="735.5">NC 031129 II</text><text class="d" x="882" y="735.5">Salmonella phage SJ46</text></g>
<g id="r120" class="q"><rect x="828.5" y="736.5" width="4.7" height="5" fill="#a9d08e"/><text class="r" x="840" y="740.5">NC 005340</text><text class="d" x="882" y="740.5">Enterobacteria phage PsP3</text></g>
<g id="r121" class="q"><rect x="828.5" y="742.5" width="4.7" height="5" fill="#339933"/><text class="n" x="840" y="746.5">NC 019488 II</text><text class="d" x="882" y="746.5">Salmonella phage RE-2010</text></g>
<g id="r122" class="q"><rect x="828.5" y="747.5" width="4.7" height="5" fill="#c65911"/><text class="r" x="840" y="751.5">NC 019488 III</text><text class="d" x="882" y="751.5">Salmonella phage RE-2010</text></g>
<g id="r123" class="q"><rect x="786.2" y="752.5" width="4.7" height="5" fill="#8ea9db"/><rect x="790.9" y="752.5" width="4.7" height="5" fill="#8ea9db"/><rect x="795.6" y="752.5" width="4.7" height="5" fill="#8ea9db"/><rect x="800.3" y="752.5" width="4.7" height="5" fill="#8ea9db"/><rect x="805" y="752.5" width="4.7" height="5" fill="#8ea9db"/><rect x="809.7" y="752.5" width="4.7" height="5" fill="#8ea9db"/><rect x="814.4" y="752.5" width="4.7" height="5" fill="#8ea9db"/><rect x="819.1" y="752.5" width="4.7" height="5" fill="#8ea9db"/><rect x="823.8" y="752.5" width="4.7" height="5" fill="#8ea9db"/><rect x="828.5" y="752.5" width="4.7" height="5" fill="#8ea9db"/><text class="n" x="840" y="756.5">NC 022750 III</text><text class="d" x="882" y="756.5">Enterobacteria phage 9AA-81</text></g>
<g id="r124" class="q"><rect x="823.8" y="758.5" width="4.7" height="5" fill="#006666"/><rect x="828.5" y="758.5" width="4.7" height="5" fill="#006666"/><text class="n" x="840" y="762.5">NC 022750 IV</text><text class="d" x="882" y="762.5">Enterobacteria phage 9AA-81</text></g>
<g id="r125" class="q"><rect x="823.8" y="763.5" width="4.7" height="5" fill="#00ffff"/><rect x="828.5" y="763.5" width="4.7" height="5" fill="#cc99ff"/><text class="n" x="840" y="767.5">NC 022750 II</text><text class="d" x="882" y="767.5">Enterobacteria phage 9AA-81</text></g>
<g id="r126" class="q"><rect x="823.8" y="773.5" width="4.7" height="5" fill="#99ff33"/><rect x="828.5" y="773.5" width="4.7" height="5" fill="#cc6600"/><text class="n" x="840" y="777.5">NC 020514 XII</text><text class="d" x="882" y="777.5">Enterobacteria phage P88</text></g>
<g id="r127" class="q"><rect x="823.8" y="778.5" width="4.7" height="5" fill="#996633"/><rect x="828.5" y="778.5" width="4.7" height="5" fill="#996633"/><text class="n" x="840" y="782.5">NC 020514 XI</text><text class="d" x="882" y="782.5">Enterobacteria phage P88</text></g>
<g id="r128" class="q"><rect x="828.5" y="784.5" width="4.7" height="5" fill="#339933"/><text class="n" x="840" y="788.5">NC 020514 XVII</text><text class="d" x="882" y="788.5">Enterobacteria phage P88</text></g>
<g id="r129" class="q"><rect x="828.5" y="789.5" width="4.7" height="5" fill="#3333ff"/><text class="n" x="840" y="793.5">NC 020514 XIII</text><text class="d" x="882" y="793.5">Enterobacteria phage P88</text></g>
<g id="r130" class="q"><rect x="828.5" y="794.5" width="4.7" height="5" fill="#cc99ff"/><text class="n" x="840" y="798.5">NC 020514 XVI</text><text class="d" x="882" y="798.5">Enterobacteria phage P88</text></g>
</g>
<g id="legend" class="lg">
<rect x="981.7" y="651.7" width="50" height="7.06" fill="#e2efda"/><text class="lt" x="983.5" y="657">Brandenburg</text>
<rect x="981.7" y="658.76" width="50" height="7.06" fill="#a9d08e"/><text class="lt" x="983.5" y="664.1">I:4,5,12:i:-</text>
<rect x="981.7" y="665.82" width="50" height="7.06" fill="#375623"/><text class="lw" x="983.5" y="671.1">Reading</text>
<rect x="981.7" y="672.88" width="50" height="7.06" fill="#d9e1f2"/><text class="lt" x="983.5" y="678.2">Typhimurium</text>
<rect x="981.7" y="679.94" width="50" height="7.06" fill="#8ea9db"/><text class="lw" x="983.5" y="685.2">Enteritidis</text>
<rect x="981.7" y="687" width="50" height="7.06" fill="#2f5597"/><text class="lw" x="983.5" y="692.3">Rissen</text>
<rect x="981.7" y="694.06" width="50" height="7.06" fill="#fff2cc"/><text class="lt" x="983.5" y="699.4">Kentucky</text>
<rect x="981.7" y="701.12" width="50" height="7.06" fill="#ffd966"/><text class="lt" x="983.5" y="706.4">O:157:H7</text>
<rect x="981.7" y="708.18" width="50" height="7.06" fill="#bf8f00"/><text class="lw" x="983.5" y="713.5">O:157:NM</text>
<rect x="981.7" y="715.24" width="50" height="7.06" fill="#f2f2f2"/><text class="lt" x="983.5" y="720.5">O:153:NM</text>
<rect x="981.7" y="722.3" width="50" height="7.06" fill="#bfbfbf"/><text class="lw" x="983.5" y="727.6">O8:H19</text>
<rect x="981.7" y="729.36" width="50" height="7.06" fill="#7f7f7f"/><text class="lw" x="983.5" y="734.7">O:156:H8</text>
<rect x="981.7" y="736.42" width="50" height="7.06" fill="#fce4d6"/><text class="lt" x="983.5" y="741.7">O:26:H11</text>
<rect x="981.7" y="743.48" width="50" height="7.06" fill="#f8cbad"/><text class="lt" x="983.5" y="748.8">O:100:H11</text>
<rect x="981.7" y="750.54" width="50" height="7.06" fill="#c65911"/><text class="lt" x="983.5" y="755.8">O:113:H25</text>
<rect x="981.7" y="757.6" width="50" height="7.06" fill="#bdd7ee"/><text class="lt" x="983.5" y="762.9">O:5:NM</text>
<rect x="981.7" y="764.66" width="50" height="7.06" fill="#2e75b6"/><text class="lw" x="983.5" y="770">O:111:NM</text>
<rect x="981.7" y="771.72" width="50" height="7.06" fill="#6b6bff"/><text class="lt" x="983.5" y="777">O:111:H8</text>
<rect x="981.7" y="778.78" width="50" height="7.06" fill="#ff66cc"/><text class="lt" x="983.5" y="784.1">O:98:NM</text>
<rect x="981.7" y="785.84" width="50" height="7.06" fill="#ff99cc"/><text class="lt" x="983.5" y="791.1">O:22:H8</text>
<rect x="981.7" y="792.9" width="50" height="7.06" fill="#ccff99"/><text class="lt" x="983.5" y="798.2">O:153:H12</text>
<rect x="1031.7" y="651.7" width="50" height="7.06" fill="#33ffcc"/><text class="lt" x="1033.5" y="657">O:165:H25</text>
<rect x="1031.7" y="658.76" width="50" height="7.06" fill="#006666"/><text class="lt" x="1033.5" y="664.1">O:165:NM</text>
<rect x="1031.7" y="665.82" width="50" height="7.06" fill="#996633"/><text class="lt" x="1033.5" y="671.1">O:103:H2</text>
<rect x="1031.7" y="672.88" width="50" height="7.06" fill="#339933"/><text class="lt" x="1033.5" y="678.2">O:103:H25</text>
<rect x="1031.7" y="679.94" width="50" height="7.06" fill="#cc6600"/><text class="lt" x="1033.5" y="685.2">O:174:H8</text>
<rect x="1031.7" y="687" width="50" height="7.06" fill="#99ff33"/><text class="lt" x="1033.5" y="692.3">O8:H9</text>
<rect x="1031.7" y="694.06" width="50" height="7.06" fill="#00ffff"/><text class="lt" x="1033.5" y="699.4">O:103:H2</text>
<rect x="1031.7" y="701.12" width="50" height="7.06" fill="#3333ff"/><text class="lt" x="1033.5" y="706.4">O:29:H5</text>
<rect x="1031.7" y="708.18" width="50" height="7.06" fill="#ffffff"/><text class="lt" x="1033.5" y="713.5">O:76:H19</text>
<rect x="1031.7" y="715.24" width="50" height="7.06" fill="#660066"/><text class="lt" x="1033.5" y="720.5">O:6:H10</text>
<rect x="1031.7" y="722.3" width="50" height="7.06" fill="#1f4e79"/><text class="lt" x="1033.5" y="727.6">O:53:NM</text>
<rect x="1031.7" y="729.36" width="50" height="7.06" fill="#ffffff"/><text class="lt" x="1033.5" y="734.7">O:130:H8</text>
<rect x="1031.7" y="736.42" width="50" height="7.06" fill="#cc99ff"/><text class="lt" x="1033.5" y="741.7">O:63:H19</text>
<rect x="1031.7" y="743.48" width="50" height="7.06" fill="#000000"/><text class="lw" x="1033.5" y="748.8">O:128:H2</text>
<rect x="1031.7" y="750.54" width="50" height="7.06" fill="#ff33ff"/><text class="lt" x="1033.5" y="755.8">O:4:H21</text>
<rect x="1031.7" y="757.6" width="50" height="7.06" fill="#ccffff"/><text class="lt" x="1033.5" y="762.9">O:51:H12</text>
<rect x="1031.7" y="764.66" width="50" height="7.06" fill="#ff9999"/><text class="lt" x="1033.5" y="770">O:174:H21</text>
<rect x="1031.7" y="771.72" width="50" height="7.06" fill="#ff3333"/><text class="lt" x="1033.5" y="777">O:63:NM</text>
<rect x="1031.7" y="778.78" width="50" height="7.06" fill="#00ccff"/><text class="lt" x="1033.5" y="784.1">O:6:NM</text>
<rect x="1031.7" y="785.84" width="50" height="7.06" fill="#66ff33"/><text class="lt" x="1033.5" y="791.1">O:69:H11</text>
<rect x="1031.7" y="792.9" width="50" height="7.06" fill="#0033cc"/><text class="lt" x="1033.5" y="798.2">O:28:H2</text>
</g>
</svg>
